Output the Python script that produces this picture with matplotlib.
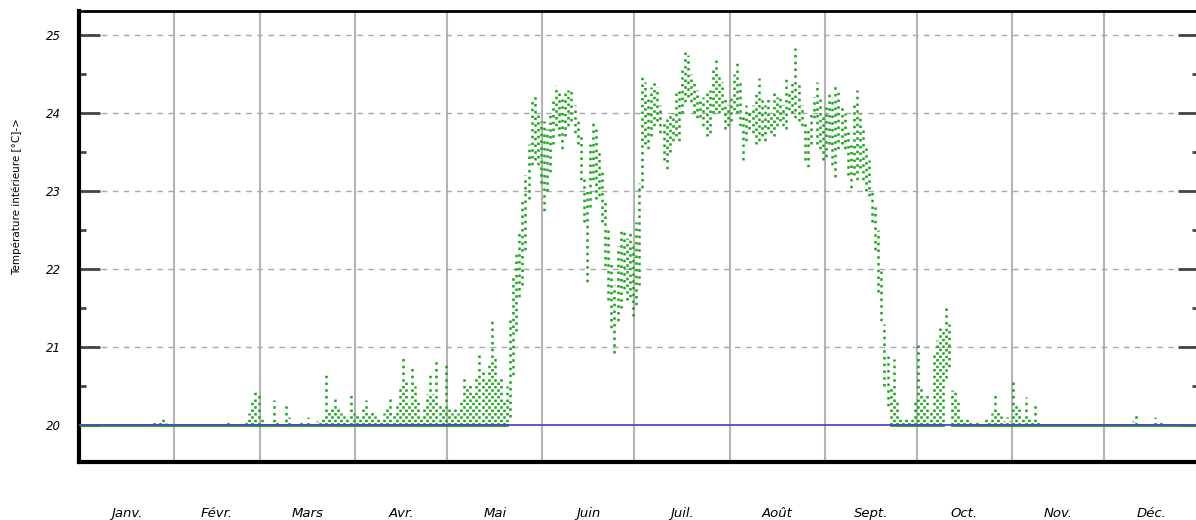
import numpy as np
import matplotlib
matplotlib.use("Agg")
import matplotlib.pyplot as plt

# Libellés des mois et nombre de jours
months = ["Janv.", "Févr.", "Mars", "Avr.", "Mai", "Juin",
          "Juil.", "Août", "Sept.", "Oct.", "Nov.", "Déc."]
month_days = [31, 28, 31, 30, 31, 30, 31, 31, 30, 31, 30, 31]

# Température intérieure : maximum journalier [°C]
jan_max = [20.0] * 23 + [20.04, 20.05, 20.02, 20.05, 20.09, 20.02, 20.0, 20.0]
feb_max = [20.0] * 17 + [20.05] + [20.0] * 5 + [20.08, 20.15, 20.32, 20.46, 20.42]
mar_max = [20.1, 20.0, 20.0, 20.0, 20.32, 20.05, 20.0, 20.0, 20.28, 20.1,
           20.04, 20.0, 20.0, 20.05, 20.0, 20.1, 20.0, 20.0, 20.05, 20.08,
           20.12, 20.68, 20.2, 20.25, 20.35, 20.2, 20.15, 20.12, 20.1, 20.41, 20.15]
apr_max = [20.15, 20.1, 20.2, 20.32, 20.15, 20.2, 20.12, 20.1, 20.05, 20.15,
           20.2, 20.38, 20.15, 20.3, 20.5, 20.87, 20.6, 20.3, 20.77, 20.5,
           20.3, 20.1, 20.2, 20.4, 20.67, 20.4, 20.83, 20.3, 20.25, 20.77]
may_max = [20.2, 20.15, 20.2, 20.15, 20.3, 20.64, 20.5, 20.55, 20.4, 20.6,
           20.9, 20.7, 20.6, 20.8, 21.35, 20.9, 20.6, 20.6, 20.3, 20.5,
           21.4, 21.9, 22.2, 22.5, 22.9, 23.2, 23.6, 24.17, 24.25, 24.0, 23.9]
jun_max = [23.9, 23.8, 24.0, 24.2, 24.36, 24.3, 24.2, 24.3, 24.3, 24.3,
           24.1, 23.9, 23.7, 23.2, 23.0, 23.6, 23.87, 23.8, 23.5, 23.3,
           22.9, 22.5, 22.1, 21.8, 22.3, 22.54, 22.5, 22.4, 22.5, 22.3]
jul_max = [22.6, 23.1, 24.47, 24.4, 24.2, 24.33, 24.4, 24.33, 24.1, 23.9,
           23.95, 24.0, 24.0, 24.3, 24.3, 24.6, 24.78, 24.75, 24.5, 24.4,
           24.3, 24.2, 24.2, 24.3, 24.3, 24.6, 24.68, 24.5, 24.4, 24.2, 24.1]
aug_max = [24.2, 24.5, 24.64, 24.4, 24.0, 24.1, 24.0, 24.1, 24.3, 24.45,
           24.2, 24.1, 24.2, 24.0, 24.3, 24.2, 24.2, 24.1, 24.46, 24.3,
           24.4, 24.83, 24.4, 24.1, 23.9, 23.8, 24.0, 24.2, 24.4, 24.2, 24.0]
sep_max = [24.1, 24.3, 24.2, 24.38, 24.3, 24.1, 24.0, 23.8, 23.6, 24.1,
           24.3, 24.0, 23.8, 23.6, 23.4, 23.0, 22.8, 22.5, 22.0, 21.3,
           20.9, 20.5, 20.85, 20.3, 20.1, 20.05, 20.1, 20.05, 20.1, 20.3]
oct_max = [21.06, 20.5, 20.35, 20.42, 20.2, 20.92, 21.09, 21.28, 21.2, 21.51,
           21.3, 20.45, 20.45, 20.35, 20.1, 20.05, 20.1, 20.05, 20.0, 20.05,
           20.0, 20.0, 20.1, 20.05, 20.15, 20.41, 20.2, 20.12, 20.05, 20.1, 20.05]
nov_max = [20.55, 20.3, 20.25, 20.1, 20.36, 20.1, 20.05, 20.26, 20.05, 20.0,
           20.0, 20.0, 20.0, 20.0, 20.0, 20.0, 20.0, 20.0, 20.0, 20.0,
           20.0, 20.0, 20.0, 20.0, 20.0, 20.0, 20.0, 20.03, 20.0, 20.0]
dec_max = [20.0, 20.0, 20.0, 20.0, 20.0, 20.0, 20.0, 20.0, 20.0, 20.05,
           20.15, 20.0, 20.0, 20.0, 20.0, 20.03, 20.1, 20.0, 20.08, 20.0,
           20.0, 20.0, 20.0, 20.0, 20.0, 20.0, 20.0, 20.0, 20.0, 20.0, 20.0]

# minimum journalier [°C]
jan_min = [20.0] * 31
feb_min = [20.0] * 28
mar_min = [20.0] * 31
apr_min = [20.0] * 30
may_min = [20.0] * 20 + [20.1, 20.6, 21.2, 21.6, 21.8, 22.2, 22.9, 23.3, 23.4, 23.3, 23.1]
jun_min = [22.7, 23.0, 23.2, 23.6, 23.8, 23.7, 23.5, 23.7, 23.8, 23.9,
           23.7, 23.6, 23.1, 22.6, 21.8, 22.8, 23.1, 22.9, 22.9, 22.6,
           22.0, 21.6, 21.2, 20.92, 21.3, 21.5, 21.7, 21.6, 21.6, 21.4]
jul_min = [21.5, 21.8, 23.0, 23.6, 23.5, 23.7, 23.8, 23.9, 23.7, 23.4,
           23.24, 23.5, 23.6, 23.7, 23.6, 24.0, 24.1, 24.2, 24.1, 24.0,
           23.9, 23.95, 23.8, 23.7, 23.7, 24.0, 24.0, 24.0, 24.0, 23.8, 23.8]
aug_min = [23.9, 24.0, 24.0, 23.8, 23.4, 23.6, 23.8, 23.7, 23.6, 23.6,
           23.7, 23.6, 23.8, 23.7, 23.7, 23.8, 23.9, 23.8, 23.8, 24.0,
           24.0, 23.9, 23.9, 23.8, 23.4, 23.27, 23.6, 23.9, 23.6, 23.5, 23.4]
sep_min = [23.4, 23.6, 23.3, 23.18, 23.5, 23.6, 23.5, 23.2, 23.0, 23.2,
           23.1, 23.3, 23.1, 23.0, 22.9, 22.6, 22.2, 21.7, 21.3, 20.5,
           20.2, 20.0, 20.0, 20.0, 20.0, 20.0, 20.0, 20.0, 20.0, 20.0]
oct_min = [20.0] * 9 + [20.6, 20.7] + [20.0] * 20
nov_min = [20.0] * 30
dec_min = [20.0] * 31

setpoint = 20.0

t_max = np.array(jan_max + feb_max + mar_max + apr_max + may_max + jun_max +
                 jul_max + aug_max + sep_max + oct_max + nov_max + dec_max)
t_min = np.array(jan_min + feb_min + mar_min + apr_min + may_min + jun_min +
                 jul_min + aug_min + sep_min + oct_min + nov_min + dec_min)
days = np.arange(len(t_max)) + 0.5

month_start = np.concatenate([[0], np.cumsum(month_days)])
month_mid = (month_start[:-1] + month_start[1:]) / 2

green = "#1aa41a"
blue = "#4b4bbe"

fig = plt.figure(figsize=(11.96, 5.2), dpi=100)
ax = fig.add_axes([79 / 1196, 58 / 520, 1120 / 1196, 451 / 520])

ax.set_xlim(0, 365)
ax.set_ylim(19.526, 25.308)

# grille
for x in month_start[1:-1]:
    ax.axvline(x, color="#b4b4b4", lw=1.5, zorder=1)
for y in range(21, 26):
    ax.axhline(y, color="#a8a8a8", lw=1, ls=(0, (4, 4)), zorder=1)

# données : pointillés décalés d'un jour à l'autre
dash_styles = [(0, (1, 1.7)), (1.4, (1, 1.7))] * (len(days) // 2 + 1)
ax.vlines(days, t_min, t_max, colors=green,
          linestyles=dash_styles[:len(days)], lw=1.8, zorder=3)
base = np.where(t_min <= 20.0, 20.0, np.nan)
ax.plot(days, base, color=green, lw=2.0, zorder=3)
ax.plot([0, 365], [setpoint, setpoint], color=blue, lw=1.3, zorder=4)

# axes
for s in ["left", "bottom"]:
    ax.spines[s].set_linewidth(3)
ax.spines["top"].set_linewidth(2)
ax.spines["right"].set_linewidth(2)

ax.set_yticks(range(20, 26))
ax.set_yticks(np.arange(20.5, 25.5, 1), minor=True)
ax.tick_params(axis="y", which="major", direction="in", length=15, width=2,
               color="#444444", right=True, pad=13, labelsize=8.5)
ax.tick_params(axis="y", which="minor", direction="in", length=5, width=2,
               color="#444444", right=True)
for lab in ax.get_yticklabels():
    lab.set_fontstyle("italic")

ax.set_xticks(month_mid)
ax.set_xticklabels(months, fontstyle="italic", fontsize=9.5)
ax.tick_params(axis="x", which="both", length=0, pad=32.5)

fig.text(17 / 1196, 1 - 197 / 520, "Température intérieure [°C]->",
         rotation=90, ha="center", va="center", fontsize=7.5)

fig.savefig("out.png", dpi=100)
